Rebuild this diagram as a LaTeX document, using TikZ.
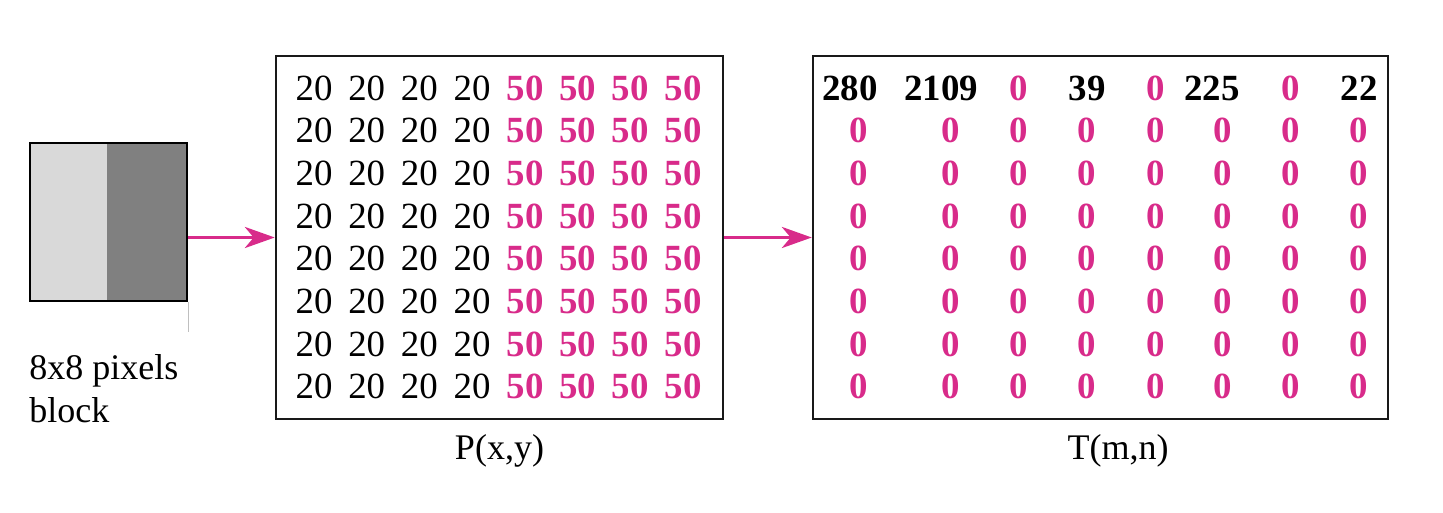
\documentclass[tikz,border=0pt]{standalone}
\usepackage{fontspec}
\setmainfont{Liberation Serif}
\usepackage{tikz}
\usetikzlibrary{arrows.meta}
\usetikzlibrary{positioning}
\definecolor{hipink}{RGB}{216,43,138}

\begin{document}
\begin{tikzpicture}[x=0.02cm,y=-0.02cm,>={Stealth[length=17pt,width=12pt,inset=5pt]},
  mat node/.style={draw=black!90,line width=1.5pt,inner sep=0,minimum height=7.26cm},
  val node/.style={inner sep=0,font=\fontsize{21}{21}\selectfont},
  hi node/.style={val node,font=\fontsize{21}{21}\selectfont\bfseries,text=hipink},
  coef node/.style={val node,font=\fontsize{21}{21}\selectfont\bfseries},
  cap node/.style={inner sep=0,font=\fontsize{20.5}{24.5}\selectfont}]

  \useasboundingbox (0,0) rectangle (1443,513);

  \node[draw=black,line width=1.1pt,fill=black!15,minimum width=3.14cm,minimum height=3.16cm,inner sep=0,
    path picture={\fill[black!50] ([xshift=-1.6cm]path picture bounding box.south east) rectangle (path picture bounding box.north east);}] (blk) at (108.5,222) {};
  \node[mat node,minimum width=8.94cm] (P) at (499.5,237.5) {};
  \node[mat node,minimum width=11.5cm] (T) at (1100.5,237.5) {};

  % pixel values
  \foreach \r in {0,...,7} {
    \foreach \c in {0,...,3} {
      \pgfmathtruncatemacro{\cc}{\c+4}
      \node[val node] (p\r\c) at (314+52.7*\c,88+42.7*\r) {20};
      \node[hi node] (p\r\cc) at (525+52.7*\c,88+42.7*\r) {50};
    }
  }

  % transform coefficients
  \foreach \x/\v [count=\i] in {850/280,941/2109,1087/39,1212/225,1359/22}
    \node[coef node] (t0\i) at (\x,88) {\v};
  \foreach \x [count=\i] in {1019,1156,1291}
    \node[hi node] (z0\i) at (\x,88) {0};
  \foreach \r in {1,...,7}
    \foreach \x [count=\i] in {859,951,1019,1087,1156,1223,1291,1359}
      \node[hi node] (t\r\i) at (\x,88+42.7*\r) {0};

  \draw[->,hipink,line width=2pt] (blk.east |- P.west) -- (P.west);
  \draw[->,hipink,line width=2pt] (P) -- (T);

  \coordinate[below=0.6cm of blk.south east] (blk tick);
  \draw[black!25,line width=0.5pt] (blk.south east) -- (blk tick);

  \node[cap node,align=left] (bl) [below=1.04cm of blk.south west,anchor=north west] {8x8 pixels\\block};
  \node[cap node] (Pl) [below=0.28cm of P] {P(x,y)};
  \node[cap node] (Tl) [below=0.28cm of T,xshift=0.35cm] {T(m,n)};
\end{tikzpicture}
\end{document}
